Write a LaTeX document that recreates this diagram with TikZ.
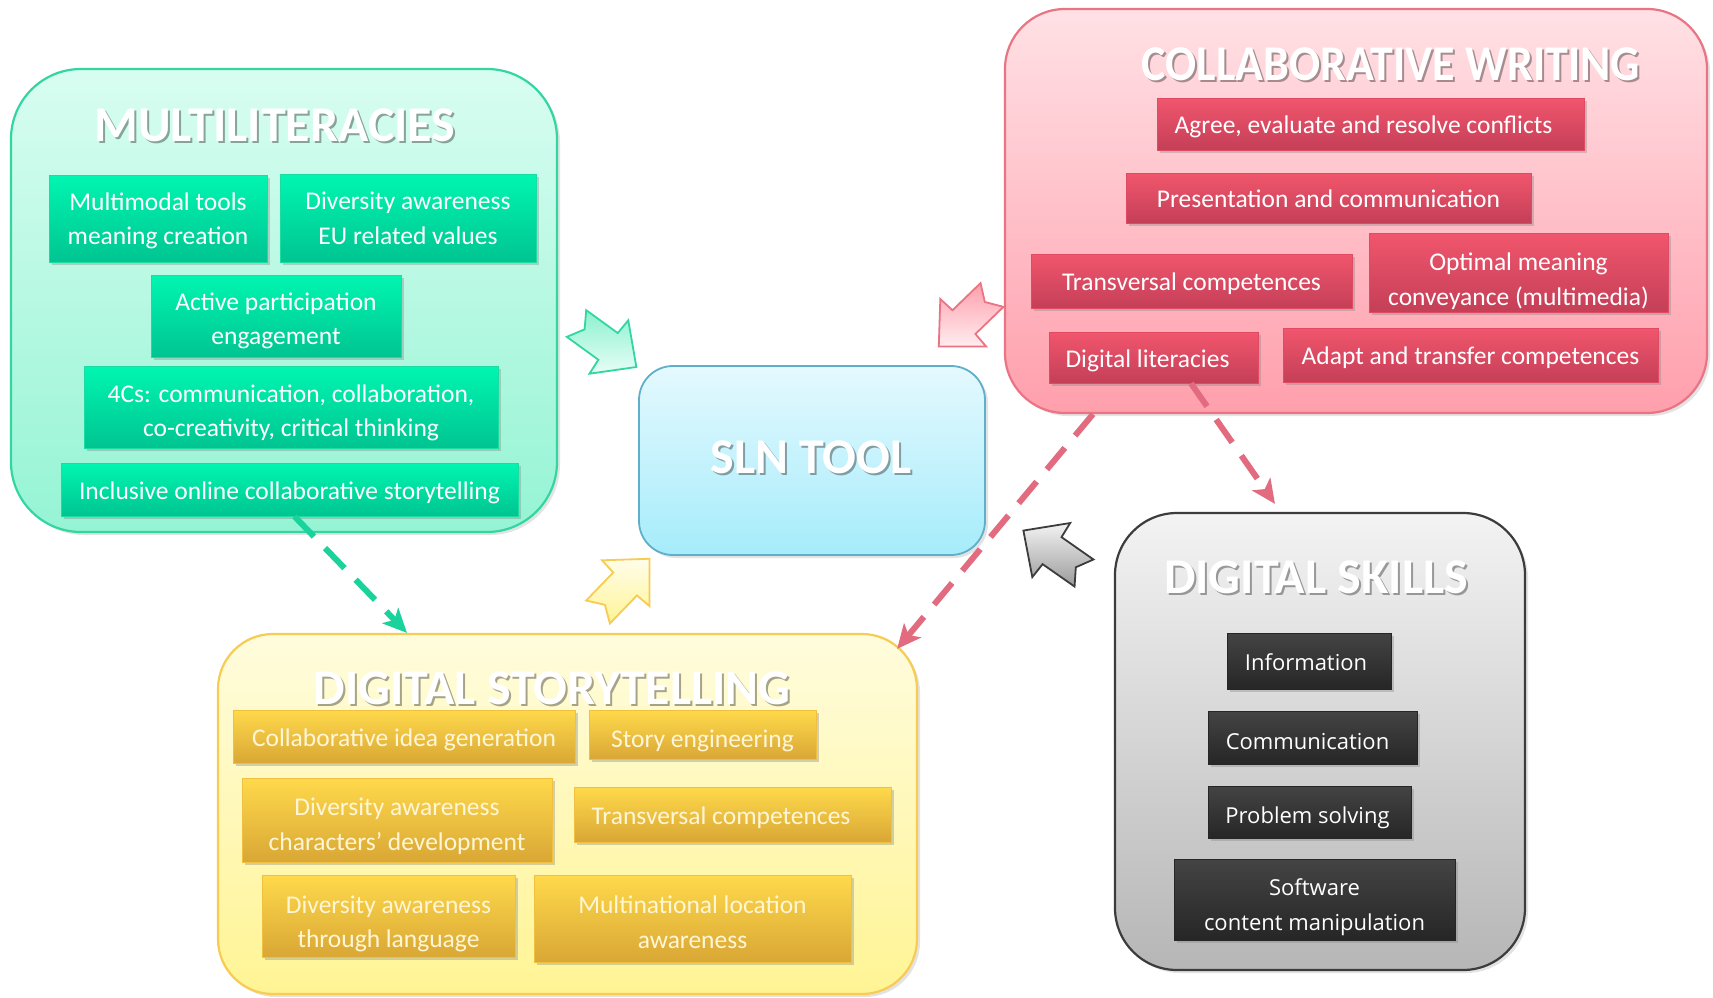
\documentclass[tikz,border=0pt]{standalone}
\usepackage{fontspec}
\setmainfont{Carlito}
\newfontfamily\skillfont{Open Sans}
\usetikzlibrary{shadows,arrows.meta}

% palette
\definecolor{mlBorder}{HTML}{33D6A3}
\definecolor{mlTop}{HTML}{D8FDF1}
\definecolor{mlBot}{HTML}{95F4D4}
\definecolor{mlBoxTop}{HTML}{00F6B1}
\definecolor{mlBoxBot}{HTML}{00C491}
\definecolor{mlBoxLine}{HTML}{1BDDA4}
\definecolor{cwBorder}{HTML}{EA7484}
\definecolor{cwTop}{HTML}{FFE1E5}
\definecolor{cwBot}{HTML}{FF9FAC}
\definecolor{cwBoxTop}{HTML}{F1566D}
\definecolor{cwBoxBot}{HTML}{C43F57}
\definecolor{cwBoxLine}{HTML}{E04A62}
\definecolor{dsBorder}{HTML}{F8CB52}
\definecolor{dsTop}{HTML}{FFFCDD}
\definecolor{dsBot}{HTML}{FFF494}
\definecolor{dsBoxTop}{HTML}{FFD94B}
\definecolor{dsBoxBot}{HTML}{D9A735}
\definecolor{dsBoxLine}{HTML}{F2C040}
\definecolor{dsText}{HTML}{FFF6D8}
\definecolor{skBorder}{HTML}{3C3C3C}
\definecolor{skTop}{HTML}{F3F3F3}
\definecolor{skBot}{HTML}{B6B6B6}
\definecolor{skBoxTop}{HTML}{444444}
\definecolor{skBoxBot}{HTML}{262626}
\definecolor{slnBorder}{HTML}{5FAFCB}
\definecolor{slnTop}{HTML}{E4F9FE}
\definecolor{slnBot}{HTML}{A6ECFB}
\definecolor{dashGreen}{HTML}{1AD29C}
\definecolor{dashRed}{HTML}{E26B7F}

% notched block arrow, tail centre at #1, pointing at angle #2
\newcommand{\NotchArrow}[3]{%
  \path[#3, shift={#1}, rotate=#2]
    (0,16.5) -- (39,16.5) -- (40,33) -- (74,0) -- (40,-33) -- (39,-16.5)
    -- (0,-16.5) -- (10,0) -- cycle;}

% tile whose label sits #7pt below the tile centre
% #1 tile style, #2 label style, #3 name, #4 centre, #5 width, #6 height, #7 drop, #8 label
\newcommand{\TileLow}[8]{%
  \node[#1, minimum width=#5pt, minimum height=#6pt] (#3) at (#4) {};
  \node[#2] (#3-text) at ([yshift=-#7pt]#3.center) {#8};}

\begin{document}
\begin{tikzpicture}[x=1pt,y=-1pt,
  panel/.style={rectangle, rounded corners=#1, line width=2.2pt, inner sep=0pt,
    drop shadow={shadow xshift=3pt, shadow yshift=-3pt, opacity=.22}},
  ttl/.style={text=white, inner sep=0pt, font=\bfseries\fontsize{50}{50}\selectfont},
  ttlshadow/.style={ttl, text=black, opacity=.35},
  tiletext/.style={inner sep=3pt, align=center, text=white,
    font=\fontsize{25.5}{34.5}\selectfont,
    execute at begin node={\rule{0pt}{25.5pt}},
    execute at end node={\rule[-6.5pt]{0pt}{6.5pt}}},
  tile/.style={tiletext, rectangle, line width=0.8pt,
    drop shadow={shadow xshift=2.5pt, shadow yshift=-2.5pt, opacity=.35}},
  gtile/.style={tile, draw=mlBoxLine, top color=mlBoxTop, bottom color=mlBoxBot},
  rtile/.style={tile, draw=cwBoxLine, top color=cwBoxTop, bottom color=cwBoxBot},
  ytile/.style={tile, draw=dsBoxLine, top color=dsBoxTop, bottom color=dsBoxBot, text=dsText},
  ytext/.style={tiletext, text=dsText},
  kfont/.style={font=\skillfont\fontsize{22}{35}\selectfont,
    execute at begin node={\rule{0pt}{23pt}},
    execute at end node={\rule[-5.5pt]{0pt}{5.5pt}}},
  ktile/.style={tile, draw=skBoxBot, top color=skBoxTop, bottom color=skBoxBot, kfont},
  ktext/.style={tiletext, kfont},
  flow/.style={line width=6pt, dash pattern=on 28pt off 16pt,
    -{Stealth[length=24pt,width=22pt,inset=6pt]}},
]
\fill[white] (0,0) rectangle (1713,998);
\useasboundingbox (0,0) rectangle (1713,998);

% ---- panels ----
\node[panel=70pt, draw=mlBorder, top color=mlTop, bottom color=mlBot,
  minimum width=546pt, minimum height=463pt] (ml) at (284,300.5) {};
\node[panel=60pt, draw=cwBorder, top color=cwTop, bottom color=cwBot,
  minimum width=702pt, minimum height=404pt] (cw) at (1356,211) {};
\node[panel=55pt, draw=dsBorder, top color=dsTop, bottom color=dsBot,
  minimum width=699pt, minimum height=360pt] (ds) at (567.5,814) {};
\node[panel=62pt, draw=skBorder, top color=skTop, bottom color=skBot,
  minimum width=410pt, minimum height=457pt] (sk) at (1320,741.5) {};
\node[panel=34pt, draw=slnBorder, top color=slnTop, bottom color=slnBot, line width=1.8pt,
  minimum width=346pt, minimum height=189pt] (sln) at (812,460.5) {};

% ---- titles ----
\node[ttlshadow] (ml-ts) at (277,127) {MULTILITERACIES};
\node[ttl] (ml-t) at (275,125) {MULTILITERACIES};
\node[ttlshadow] (cw-ts) at (1393,66) {\scalebox{0.92}[1]{COLLABORATIVE WRITING}};
\node[ttl] (cw-t) at (1391,64) {\scalebox{0.92}[1]{COLLABORATIVE WRITING}};
\node[ttlshadow] (ds-ts) at (554,690) {DIGITAL STORYTELLING};
\node[ttl] (ds-t) at (552,688) {DIGITAL STORYTELLING};
\node[ttlshadow] (sk-ts) at (1318,579) {DIGITAL SKILLS};
\node[ttl] (sk-t) at (1316,577) {DIGITAL SKILLS};
\node[ttlshadow] (sln-ts) at (813,459) {SLN TOOL};
\node[ttl] (sln-t) at (811,457) {SLN TOOL};

% ---- multiliteracies ----
\TileLow{gtile}{tiletext}{g1}{158,218.5}{218}{87}{3.3}{Multimodal tools\\meaning creation}
\TileLow{gtile}{tiletext}{g2}{408,218}{256}{88}{3.3}{Diversity awareness\\EU related values}
\TileLow{gtile}{tiletext}{g3}{276,316}{250}{82}{6}{Active participation\\engagement}
\TileLow{gtile}{tiletext}{g4}{291,407}{414}{82}{7}{4Cs: communication, collaboration,\\co-creativity, critical thinking}
\node[gtile, minimum width=457pt, minimum height=53pt] (g5) at (289.5,489.5) {Inclusive online collaborative storytelling};

% ---- collaborative writing ----
\node[rtile, minimum width=427pt, minimum height=52pt] (r1) at (1370.5,124) {Agree, evaluate and resolve conflicts\hspace*{14pt}};
\node[rtile, minimum width=405pt, minimum height=50pt] (r2) at (1328.5,198) {Presentation and communication};
\node[rtile, minimum width=321pt, minimum height=54pt] (r3) at (1191.5,281) {Transversal competences};
\TileLow{rtile}{tiletext}{r4}{1518.5,272.5}{299}{79}{10}{Optimal meaning\\conveyance (multimedia)}
\node[rtile, minimum width=209pt, minimum height=51pt] (r5) at (1153.5,357.5) {Digital literacies\hspace*{12pt}};
\node[rtile, minimum width=375pt, minimum height=54pt] (r6) at (1470.5,355) {Adapt and transfer competences};

% ---- digital storytelling ----
\node[ytile, minimum width=342pt, minimum height=53pt] (y1) at (404,736.5) {Collaborative idea generation};
\TileLow{ytile}{ytext}{y2}{702.5,734.5}{227}{49}{3}{Story engineering}
\TileLow{ytile}{ytext}{y3}{397,820}{310}{84}{7.6}{Diversity awareness\\characters’ development}
\node[ytile, minimum width=317pt, minimum height=55pt] (y4) at (732.5,814.5) {Transversal competences\hspace*{23pt}};
\TileLow{ytile}{ytext}{y5}{388.5,916}{253}{82}{9}{Diversity awareness\\through language}
\TileLow{ytile}{ytext}{y6}{692.5,918.5}{317}{87}{7}{Multinational location\\awareness}

% ---- digital skills ----
\node[ktile, minimum width=164pt, minimum height=56pt] (k1) at (1309,661) {Information\hspace*{6pt}};
\TileLow{ktile}{ktext}{k2}{1312.5,737.5}{209}{53}{2}{Communication\hspace*{10pt}}
\TileLow{ktile}{ktext}{k3}{1309.5,812}{203}{52}{2}{Problem solving\hspace*{4pt}}
\TileLow{ktile}{ktext}{k4}{1314.5,899.5}{281}{81}{8.5}{Software\\content manipulation}

% ---- dashed links ----
\draw[flow, dashGreen] ([xshift=5pt]g5.south) -- ([xshift=-160.5pt]ds.north);
\draw[flow, dashRed] ([xshift=-263pt]cw.south) -- ([xshift=-21pt,yshift=-16pt]ds.north east);
\draw[flow, dashRed] ([xshift=37.5pt]r5.south) -- ([xshift=-45pt,yshift=8pt]sk.north);

% ---- block arrows into the tool ----
\NotchArrow{(576.5,323.5)}{-36}{draw=mlBorder, line width=1.8pt, top color=mlBot!90!mlBorder, bottom color=mlTop!60!white}
\NotchArrow{(598,612)}{46}{draw=dsBorder, line width=1.8pt, top color=dsTop!60!white, bottom color=dsBot}
\NotchArrow{(992,295)}{224}{draw=cwBorder, line width=1.8pt, top color=cwBot, bottom color=cwTop!60!white}
\NotchArrow{(1084,573)}{145}{draw=skBorder, line width=1.8pt, top color=skTop, bottom color=skBot!85!black}
\end{tikzpicture}
\end{document}
